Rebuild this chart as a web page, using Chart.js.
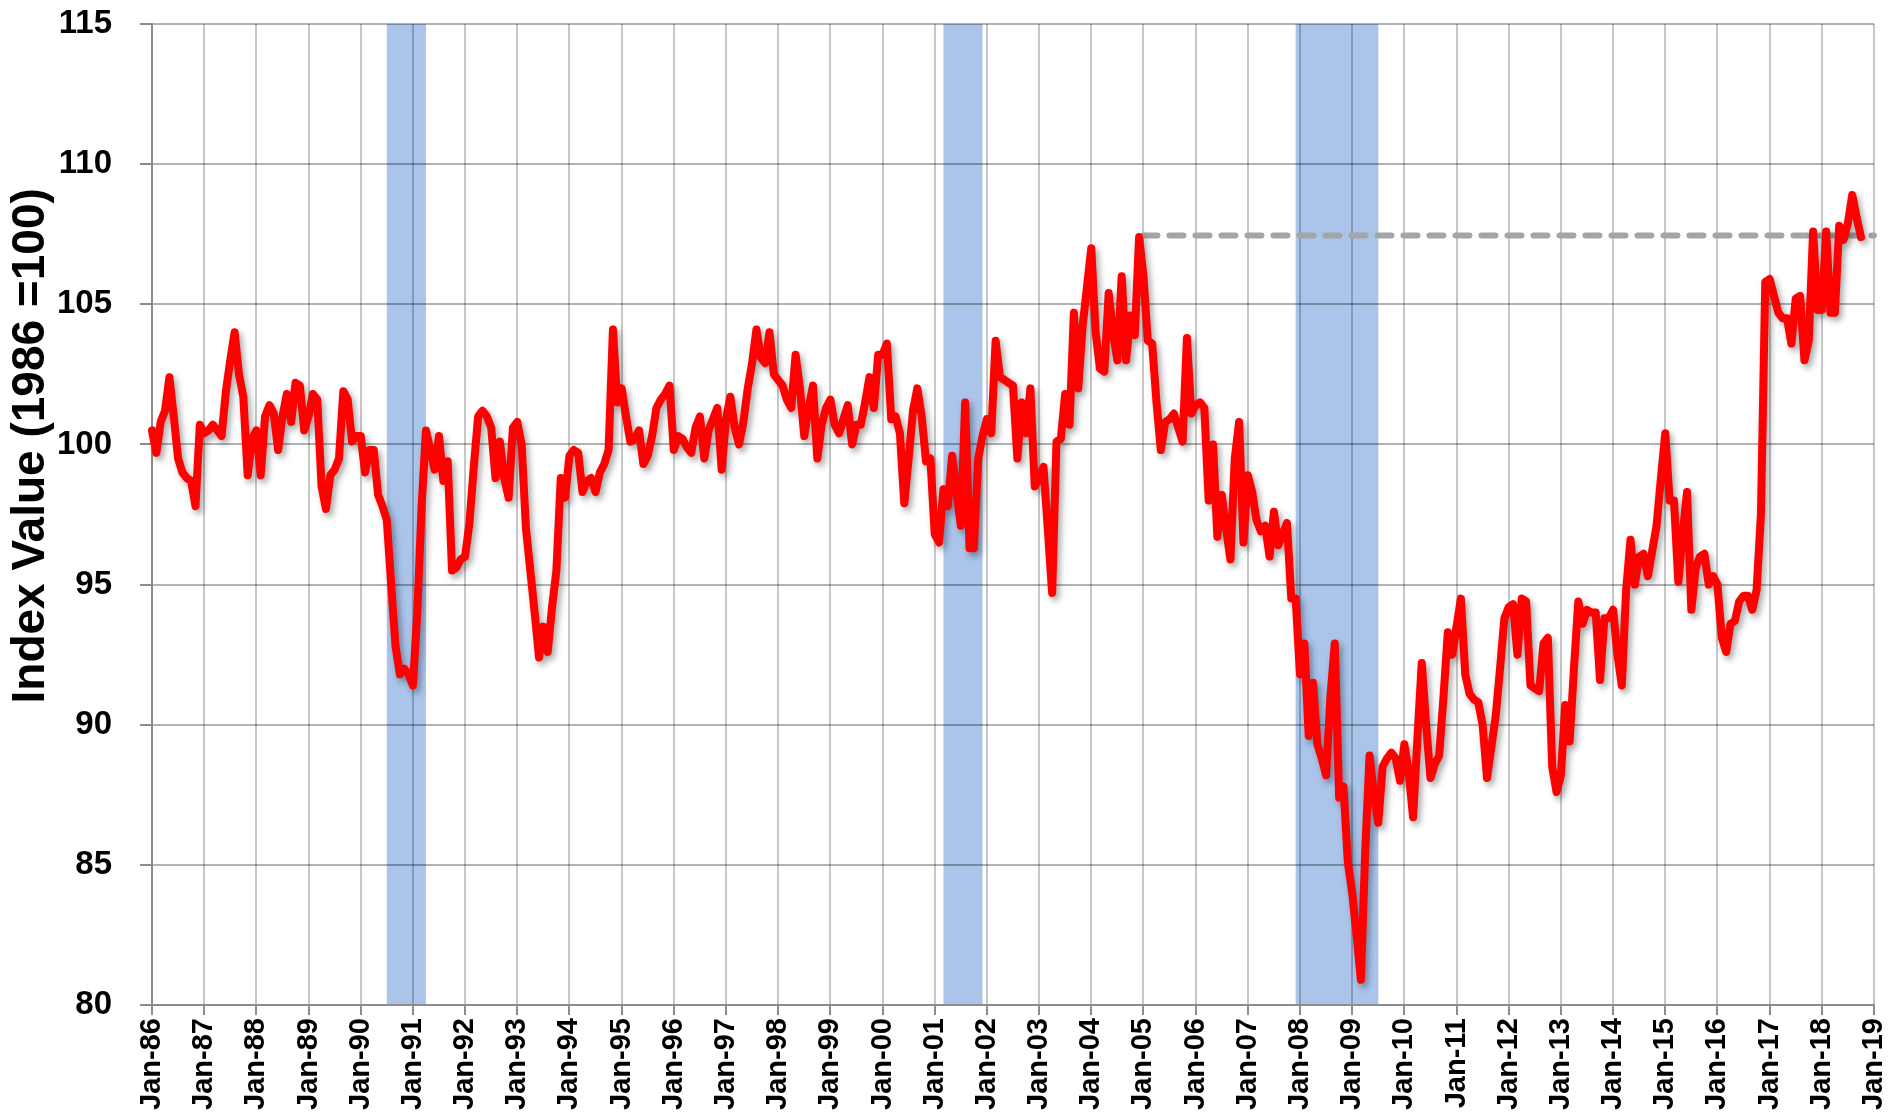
<!DOCTYPE html>
<html>
<head>
<meta charset="utf-8">
<script src="https://cdn.jsdelivr.net/npm/chart.js@4.4.1/dist/chart.umd.min.js"></script>
<style>
  html, body { margin: 0; padding: 0; background: #fff; }
  #wrap { width: 1895px; height: 1116px; position: relative; }
</style>
</head>
<body>
<div id="wrap"><canvas id="indexChart"></canvas></div>
<script>
// Monthly index values, Jan-86 .. Oct-18 (one line per year)
const indexValues = [
    100.5, 99.7, 100.8, 101.2, 102.4, 101.0, 99.5, 99.0, 98.8, 98.7, 97.8, 100.7,
    100.4, 100.5, 100.7, 100.5, 100.3, 101.9, 103.0, 104.0, 102.5, 101.7, 98.9, 100.2,
    100.5, 98.9, 101.0, 101.4, 101.1, 99.8, 101.0, 101.8, 100.8, 102.2, 102.1, 100.5,
    101.0, 101.8, 101.6, 98.5, 97.7, 98.9, 99.1, 99.5, 101.9, 101.6, 100.1, 100.3,
    100.3, 99.0, 99.8, 99.8, 98.2, 97.8, 97.3, 95.0, 92.8, 91.8, 92.0, 91.8,
    91.4, 94.0, 97.8, 100.5, 99.8, 99.1, 100.3, 98.7, 99.4, 95.5, 95.6, 95.9,
    96.0, 97.2, 99.2, 101.0, 101.2, 101.0, 100.6, 98.8, 100.1, 98.8, 98.1, 100.6,
    100.8, 100.0, 97.0, 95.5, 94.0, 92.4, 93.5, 92.6, 94.2, 95.5, 98.8, 98.1,
    99.6, 99.8, 99.7, 98.3, 98.7, 98.8, 98.3, 99.0, 99.3, 99.8, 104.1, 101.5,
    102.0, 101.0, 100.1, 100.2, 100.5, 99.3, 99.6, 100.3, 101.3, 101.6, 101.8, 102.1,
    99.8, 100.3, 100.2, 99.9, 99.7, 100.6, 101.0, 99.5, 100.5, 100.9, 101.3, 99.1,
    100.9, 101.7, 100.6, 100.0, 100.8, 102.0, 102.9, 104.1, 103.1, 102.9, 104.0, 102.5,
    102.3, 102.1, 101.6, 101.3, 103.2, 102.0, 100.3, 101.3, 102.1, 99.5, 100.7, 101.3,
    101.6, 100.7, 100.4, 100.9, 101.4, 100.0, 100.7, 100.7, 101.5, 102.4, 101.3, 103.2,
    103.2, 103.6, 100.9, 101.0, 100.4, 97.9, 99.5, 101.2, 102.0, 101.0, 99.4, 99.5,
    96.8, 96.5, 98.4, 97.8, 99.6, 98.3, 97.1, 101.5, 96.3, 96.3, 99.5, 100.3,
    100.9, 100.4, 103.7, 102.4, 102.3, 102.2, 102.1, 99.5, 101.5, 100.4, 102.0, 98.5,
    98.8, 99.2, 97.0, 94.7, 100.1, 100.2, 101.8, 100.7, 104.7, 102.0, 104.2, 105.6,
    107.0, 104.0, 102.7, 102.6, 105.4, 104.0, 103.0, 106.0, 103.0, 104.6, 103.9, 107.4,
    106.0, 103.7, 103.6, 101.5, 99.8, 100.8, 100.9, 101.1, 100.6, 100.1, 103.8, 101.1,
    101.4, 101.5, 101.3, 98.0, 100.0, 96.7, 98.2, 97.0, 95.9, 99.5, 100.8, 96.5,
    98.9, 98.3, 97.3, 96.9, 97.1, 96.0, 97.6, 96.4, 96.8, 97.2, 94.5, 94.5,
    91.8, 92.9, 89.6, 91.5, 89.3, 88.8, 88.2, 91.0, 92.9, 87.4, 87.8, 85.1,
    84.0, 82.5, 80.9, 85.5, 88.9, 87.5, 86.5, 88.5, 88.8, 89.0, 88.8, 88.0,
    89.3, 88.3, 86.7, 89.5, 92.2, 90.0, 88.1, 88.6, 88.9, 91.0, 93.3, 92.5,
    93.5, 94.5, 91.8, 91.1, 90.9, 90.8, 90.0, 88.1, 89.2, 90.3, 92.0, 93.8,
    94.2, 94.3, 92.5, 94.5, 94.4, 91.4, 91.3, 91.2, 92.9, 93.1, 88.5, 87.6,
    88.2, 90.7, 89.4, 92.0, 94.4, 93.6, 94.1, 94.0, 94.0, 91.6, 93.8, 93.8,
    94.1, 92.5, 91.4, 94.8, 96.6, 95.0, 96.0, 96.1, 95.3, 96.2, 97.1, 98.8,
    100.4, 98.0, 98.0, 95.1, 96.8, 98.3, 94.1, 95.6, 96.0, 96.1, 95.0, 95.3,
    95.0, 93.1, 92.6, 93.6, 93.7, 94.4, 94.6, 94.6, 94.1, 94.8, 97.5, 105.8,
    105.9, 105.3, 104.7, 104.5, 104.5, 103.6, 105.2, 105.3, 103.0, 103.7, 107.6, 104.8,
    104.8, 107.6, 104.7, 104.7, 107.8, 107.3, 107.9, 108.9, 108.1, 107.4
];

const monthNames = ['Jan', 'Feb', 'Mar', 'Apr', 'May', 'Jun', 'Jul', 'Aug', 'Sep', 'Oct', 'Nov', 'Dec'];
const firstYear = 1986;
const lastYear = 2019; // axis runs to Jan-19

// Recession periods (first and last month inside the shaded band)
const recessionStarts = ['Jul-90', 'Mar-01', 'Dec-07'];
const recessionEnds = ['Mar-91', 'Nov-01', 'Jun-09'];

// Previous peak, drawn as a dashed reference line
const peakLevel = 107.45;
const peakFrom = 'Jan-05';

const yTicks = [80, 85, 90, 95, 100, 105, 110, 115];
const yTitle = 'Index Value (1986 =100)';

// Build month labels "Jan-86" ... "Jan-19"
const labels = [];
for (let y = firstYear; y <= lastYear; y++) {
    for (let m = 0; m < 12; m++) {
        if (y === lastYear && m > 0) break;
        labels.push(monthNames[m] + '-' + String(y).slice(2));
    }
}
const peakStart = labels.indexOf(peakFrom);
const peakLine = labels.map((_, i) => (i >= peakStart ? peakLevel : null));

const FONT = "'Liberation Sans', Arial, sans-serif";

// Shaded recession bands, behind the grid
const recessionBands = {
    id: 'recessionBands',
    beforeDraw(chart) {
        const { ctx, chartArea, scales } = chart;
        ctx.save();
        ctx.fillStyle = '#fff';
        ctx.fillRect(0, 0, chart.width, chart.height);
        ctx.fillStyle = 'rgb(170, 196, 234)';
        recessionStarts.forEach((start, i) => {
            const x0 = scales.x.getPixelForValue(labels.indexOf(start));
            const x1 = scales.x.getPixelForValue(labels.indexOf(recessionEnds[i]) + 1);
            ctx.fillRect(x0, chartArea.top, x1 - x0, chartArea.bottom - chartArea.top);
        });
        ctx.restore();
    }
};

// Soft drop shadow under the red line
const lineShadow = {
    id: 'lineShadow',
    beforeDatasetDraw(chart, args) {
        if (args.index !== 0) return;
        const ctx = chart.ctx;
        ctx.save();
        ctx.shadowColor = 'rgba(0, 0, 0, 0.35)';
        ctx.shadowBlur = 6;
        ctx.shadowOffsetX = 3;
        ctx.shadowOffsetY = 4;
    },
    afterDatasetDraw(chart, args) {
        if (args.index !== 0) return;
        chart.ctx.restore();
    }
};

// Y axis title, placed a bit above the middle of the axis as in the original
const axisTitle = {
    id: 'axisTitle',
    afterDraw(chart) {
        const { ctx, chartArea } = chart;
        const cy = chartArea.top + (chartArea.bottom - chartArea.top) * 0.43;
        ctx.save();
        ctx.translate(31, cy);
        ctx.rotate(-Math.PI / 2);
        ctx.fillStyle = '#000';
        ctx.font = "bold 46px " + FONT;
        ctx.textAlign = 'center';
        ctx.textBaseline = 'middle';
        ctx.fillText(yTitle, 0, 0);
        ctx.restore();
    }
};

const chart = new Chart(document.getElementById('indexChart').getContext('2d'), {
    type: 'line',
    data: {
        labels: labels,
        datasets: [
            {
                label: 'Index',
                data: indexValues,
                borderColor: '#ff0000',
                borderWidth: 8,
                pointRadius: 0,
                tension: 0,
                borderJoinStyle: 'round',
                borderCapStyle: 'round'
            },
            {
                label: 'Previous peak',
                data: peakLine,
                borderColor: '#a5a5a5',
                borderWidth: 6,
                borderDash: [14, 12],
                borderCapStyle: 'round',
                pointRadius: 0
            }
        ]
    },
    options: {
        responsive: true,
        maintainAspectRatio: false,
        animation: false,
        layout: { padding: { left: 0, top: 24, right: 21, bottom: 0 } },
        plugins: {
            legend: { display: false },
            tooltip: { enabled: false }
        },
        scales: {
            x: {
                type: 'category',
                offset: false,
                afterFit: (scale) => {
                    scale.height = 111;
                    scale.paddingLeft = 0;
                    scale.paddingRight = 0;
                },
                grid: {
                    color: (c) => (c.index % 12 === 0 ? 'rgba(0,0,0,0.22)' : 'transparent'),
                    tickColor: (c) => (c.index % 12 === 0 ? 'rgba(0,0,0,0.45)' : 'transparent'),
                    lineWidth: 2,
                    tickLength: 10
                },
                border: { color: '#8c8c8c', width: 2 },
                ticks: {
                    autoSkip: false,
                    maxRotation: 90,
                    minRotation: 90,
                    padding: 3,
                    color: '#000',
                    font: { family: FONT, size: 29, weight: 'bold' },
                    callback: (val, idx) => (idx % 12 === 0 ? labels[idx] : '')
                }
            },
            y: {
                min: yTicks[0],
                max: yTicks[yTicks.length - 1],
                afterFit: (scale) => {
                    scale.width = 152;
                    scale.paddingTop = 0;
                    scale.paddingBottom = 0;
                },
                afterBuildTicks: (scale) => { scale.ticks = yTicks.map(v => ({ value: v })); },
                grid: {
                    color: 'rgba(0,0,0,0.3)',
                    tickColor: 'rgba(0,0,0,0.45)',
                    lineWidth: 2,
                    tickLength: 12
                },
                border: { color: '#8c8c8c', width: 2 },
                ticks: {
                    padding: 28,
                    color: '#000',
                    font: { family: FONT, size: 33, weight: 'bold' }
                }
            }
        }
    },
    plugins: [recessionBands, lineShadow, axisTitle]
});
</script>
</body>
</html>
